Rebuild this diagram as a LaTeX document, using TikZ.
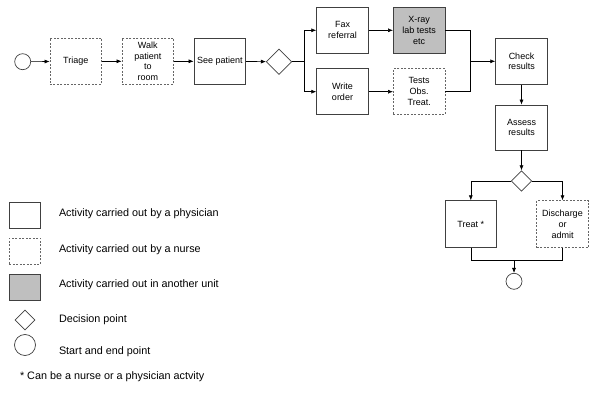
\documentclass[tikz,border=0pt]{standalone}
\usepackage{fontspec}
\setmainfont{Liberation Sans}
\usetikzlibrary{arrows.meta,shapes.geometric}

\begin{document}
\begin{tikzpicture}[x=1pt,y=-1pt,>={Latex[length=5pt,width=4pt]},
  every node/.style={font=\fontsize{9}{10.8}\selectfont, align=center},
  phys/.style={draw=black!75, line width=0.7pt, minimum width=51.7pt, minimum height=46pt, inner sep=1pt},
  nurse/.style={phys, draw=black!60, dash pattern=on 2pt off 1.5pt},
  other/.style={phys, fill=black!25},
  decision/.style={diamond, draw=black!75, line width=0.7pt, inner sep=0pt, minimum size=25.6pt},
  terminal/.style={circle, draw=black!75, line width=0.7pt, inner sep=0pt, minimum size=16pt},
  legtext/.style={anchor=west, font=\fontsize{10.8}{13}\selectfont},
  conn/.style={line width=0.6pt}]
\useasboundingbox (0,0) rectangle (600,406);

% main flow
\node[terminal] (start) at (22.7,61.7) {};
\node[nurse] (triage) at (75.8,61.3) {Triage};
\node[nurse] (walk) at (147.8,61.3) {Walk\\patient\\to\\room};
\node[phys] (see) at (219.8,61.3) {See patient};
\node[decision] (dec1) at (279,61.7) {};
\node[phys] (fax) at (342.5,30.3) {Fax\\referral};
\node[other] (xray) at (419.2,30.3) {X-ray\\lab tests\\etc};
\node[phys] (write) at (342.5,91.7) {Write\\order};
\node[nurse] (tests) at (419.2,91.7) {Tests\\Obs.\\Treat.};
\node[phys] (check) at (521.5,61.3) {Check\\results};
\node[phys, minimum height=45pt] (assess) at (521.5,127.5) {Assess\\results};
\node[decision, minimum size=20.5pt] (dec2) at (521.5,181) {};
\node[phys, minimum height=47pt] (treat) at (470.8,224.2) {Treat *};
\node[nurse, minimum height=47pt] (disch) at (562.5,224.2) {Discharge\\or\\admit};
\node[terminal] (end) at (514,281.3) {};

\coordinate (split) at (304,61.7);
\coordinate (join) at (470.3,61.3);
\coordinate (join2) at (514,260.7);

\draw[conn,->] (start) -- (triage);
\draw[conn,->] (triage) -- (walk);
\draw[conn,->] (walk) -- (see);
\draw[conn,->] (see) -- (dec1);
\draw[conn] (dec1.east) -- (split);
\draw[conn,->] (split) |- (fax);
\draw[conn,->] (split) |- (write);
\draw[conn,->] (fax) -- (xray);
\draw[conn,->] (write) -- (tests);
\draw[conn] (xray.east) -| (join);
\draw[conn] (tests.east) -| (join);
\draw[conn,->] (join) -- (check);
\draw[conn,->] (check) -- (assess);
\draw[conn,->] (assess) -- (dec2);
\draw[conn,->] (dec2.west) -| (treat.north);
\draw[conn,->] (dec2.east) -| (disch.north);
\draw[conn] (treat.south) |- (join2) -| (disch.south);
\draw[conn,->] (join2) -- (end);

% legend
\node[phys, minimum width=31.4pt, minimum height=25.6pt] (lphys) at (25,215.5) {};
\node[nurse, minimum width=31.4pt, minimum height=25.6pt] (lnurse) at (25,251.2) {};
\node[other, minimum width=31.4pt, minimum height=25.6pt] (lother) at (25,287.2) {};
\node[decision, minimum size=20pt] (ldec) at (25,320) {};
\node[terminal, minimum size=21pt] (lterm) at (25,345) {};
\node[legtext] (tphys) at (55.5,213.3) {Activity carried out by a physician};
\node[legtext] (tnurse) at (55.5,249.3) {Activity carried out by a nurse};
\node[legtext] (tother) at (55.5,285) {Activity carried out in another unit};
\node[legtext] (tdec) at (55.5,320) {Decision point};
\node[legtext] (tterm) at (55.5,351.7) {Start and end point};
\node[legtext] (tnote) at (16.5,376.7) {* Can be a nurse or a physician actvity};
\end{tikzpicture}
\end{document}
